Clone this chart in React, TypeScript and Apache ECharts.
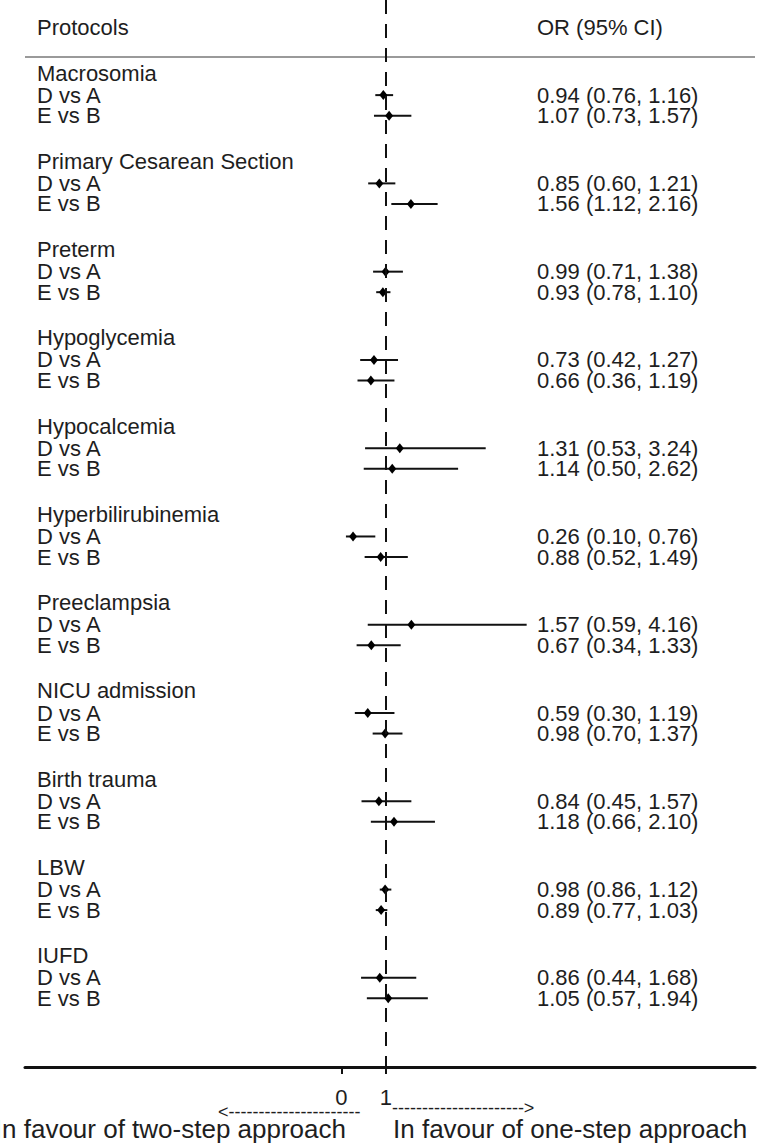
import React, { useEffect, useRef } from "react";
import * as echarts from "echarts";

const outcomes = [
  "Macrosomia",
  "Primary Cesarean Section",
  "Preterm",
  "Hypoglycemia",
  "Hypocalcemia",
  "Hyperbilirubinemia",
  "Preeclampsia",
  "NICU admission",
  "Birth trauma",
  "LBW",
  "IUFD",
];
const comparisons = ["D vs A", "E vs B"];
const orDA = [0.94, 0.85, 0.99, 0.73, 1.31, 0.26, 1.57, 0.59, 0.84, 0.98, 0.86];
const loDA = [0.76, 0.6, 0.71, 0.42, 0.53, 0.1, 0.59, 0.3, 0.45, 0.86, 0.44];
const hiDA = [1.16, 1.21, 1.38, 1.27, 3.24, 0.76, 4.16, 1.19, 1.57, 1.12, 1.68];
const orEB = [1.07, 1.56, 0.93, 0.66, 1.14, 0.88, 0.67, 0.98, 1.18, 0.89, 1.05];
const loEB = [0.73, 1.12, 0.78, 0.36, 0.5, 0.52, 0.34, 0.7, 0.66, 0.77, 0.57];
const hiEB = [1.57, 2.16, 1.1, 1.19, 2.62, 1.49, 1.33, 1.37, 2.1, 1.03, 1.94];
const xTicks = [0, 1];
const headerLeft = "Protocols";
const headerRight = "OR (95% CI)";
const favourLeft = "In favour of two-step approach";
const favourRight = "In favour of one-step approach";

const FONT = "'Liberation Sans', Arial, sans-serif";
const TXT = "#1e1e1e";

const fmt = (v: number) => v.toFixed(2);

export default function App() {
  const ref = useRef<HTMLDivElement>(null);
  useEffect(() => {
    if (!ref.current) return;
    const chart = echarts.init(ref.current, null, { renderer: "svg" });

    const ciRows: number[][] = [];
    const textRows: { k: number; left: string; right: string }[] = [];
    textRows.push({ k: -2.08, left: headerLeft, right: headerRight });
    outcomes.forEach((name, i) => {
      const base = 4 * i;
      textRows.push({ k: base, left: name, right: "" });
      const kA = base + 1;
      const kB = base + 1.93;
      ciRows.push([kA, orDA[i], loDA[i], hiDA[i]]);
      ciRows.push([kB, orEB[i], loEB[i], hiEB[i]]);
      textRows.push({
        k: kA,
        left: comparisons[0],
        right: `${fmt(orDA[i])} (${fmt(loDA[i])}, ${fmt(hiDA[i])})`,
      });
      textRows.push({
        k: kB,
        left: comparisons[1],
        right: `${fmt(orEB[i])} (${fmt(loEB[i])}, ${fmt(hiEB[i])})`,
      });
    });

    const dashes = "-".repeat(22);

    chart.setOption({
      animation: false,
      backgroundColor: "#ffffff",
      grid: { left: 25, right: 13, top: 0, bottom: 77, containLabel: false },
      xAxis: {
        type: "value",
        min: -7.11,
        max: 9.29,
        splitLine: { show: false },
        axisLine: { show: true, onZero: false, lineStyle: { color: "#111", width: 3 } },
        axisTick: {
          show: true,
          customValues: xTicks,
          length: 7,
          lineStyle: { color: "#111", width: 2 },
        },
        axisLabel: {
          customValues: xTicks,
          fontSize: 22,
          fontFamily: FONT,
          color: TXT,
          margin: 19,
        },
      },
      yAxis: {
        type: "value",
        inverse: true,
        min: -3.31,
        max: 45.04,
        show: false,
        splitLine: { show: false },
      },
      series: [
        {
          type: "custom",
          name: "ci",
          data: ciRows,
          encode: { x: [1, 2, 3], y: 0 },
          renderItem: (params: any, api: any) => {
            const k = api.value(0);
            const p = api.coord([api.value(1), k]);
            const a = api.coord([api.value(2), k]);
            const b = api.coord([api.value(3), k]);
            return {
              type: "group",
              children: [
                {
                  type: "line",
                  shape: { x1: a[0], y1: a[1], x2: b[0], y2: b[1] },
                  style: { stroke: "#111", lineWidth: 2 },
                },
                {
                  type: "polygon",
                  shape: {
                    points: [
                      [p[0], p[1] - 5],
                      [p[0] + 4, p[1]],
                      [p[0], p[1] + 5],
                      [p[0] - 4, p[1]],
                    ],
                  },
                  style: { fill: "#000" },
                },
              ],
            };
          },
          markLine: {
            silent: true,
            symbol: "none",
            label: { show: false },
            lineStyle: { color: "#111", width: 2, type: [14, 10] },
            data: [{ xAxis: 1 }],
          },
          z: 3,
        },
        {
          type: "custom",
          name: "labels",
          data: textRows.map((r) => [0, r.k]),
          encode: { x: 0, y: 1 },
          renderItem: (params: any, api: any) => {
            const row = textRows[params.dataIndex];
            const y = api.coord([0, row.k])[1];
            const cs = params.coordSys;
            const children: any[] = [
              {
                type: "text",
                x: cs.x + 12,
                y: y,
                style: {
                  text: row.left,
                  fontSize: 22,
                  fontFamily: FONT,
                  fill: TXT,
                  align: "left",
                  verticalAlign: "middle",
                },
              },
            ];
            if (row.right) {
              children.push({
                type: "text",
                x: cs.x + 512,
                y: y,
                style: {
                  text: row.right,
                  fontSize: 22,
                  fontFamily: FONT,
                  fill: TXT,
                  align: "left",
                  verticalAlign: "middle",
                },
              });
            }
            return { type: "group", children };
          },
          z: 4,
        },
      ],
      graphic: [
        {
          type: "line",
          shape: { x1: 25, y1: 57, x2: 755, y2: 57 },
          style: { stroke: "#9a9a9a", lineWidth: 2 },
        },
        {
          type: "text",
          x: 218,
          y: 1112,
          style: {
            text: "<" + dashes,
            fontSize: 18,
            fontFamily: FONT,
            fill: TXT,
            align: "left",
            verticalAlign: "middle",
          },
        },
        {
          type: "text",
          x: 392,
          y: 1108,
          style: {
            text: dashes + ">",
            fontSize: 18,
            fontFamily: FONT,
            fill: TXT,
            align: "left",
            verticalAlign: "middle",
          },
        },
        {
          type: "text",
          x: 346,
          y: 1129,
          style: {
            text: favourLeft,
            fontSize: 26,
            fontFamily: FONT,
            fill: TXT,
            align: "right",
            verticalAlign: "middle",
          },
        },
        {
          type: "text",
          x: 393,
          y: 1129,
          style: {
            text: favourRight,
            fontSize: 26,
            fontFamily: FONT,
            fill: TXT,
            align: "left",
            verticalAlign: "middle",
          },
        },
      ],
    });
    return () => chart.dispose();
  }, []);
  return (
    <div
      ref={ref}
      style={{ position: "absolute", left: 0, top: 0, width: 768, height: 1144 }}
    />
  );
}
